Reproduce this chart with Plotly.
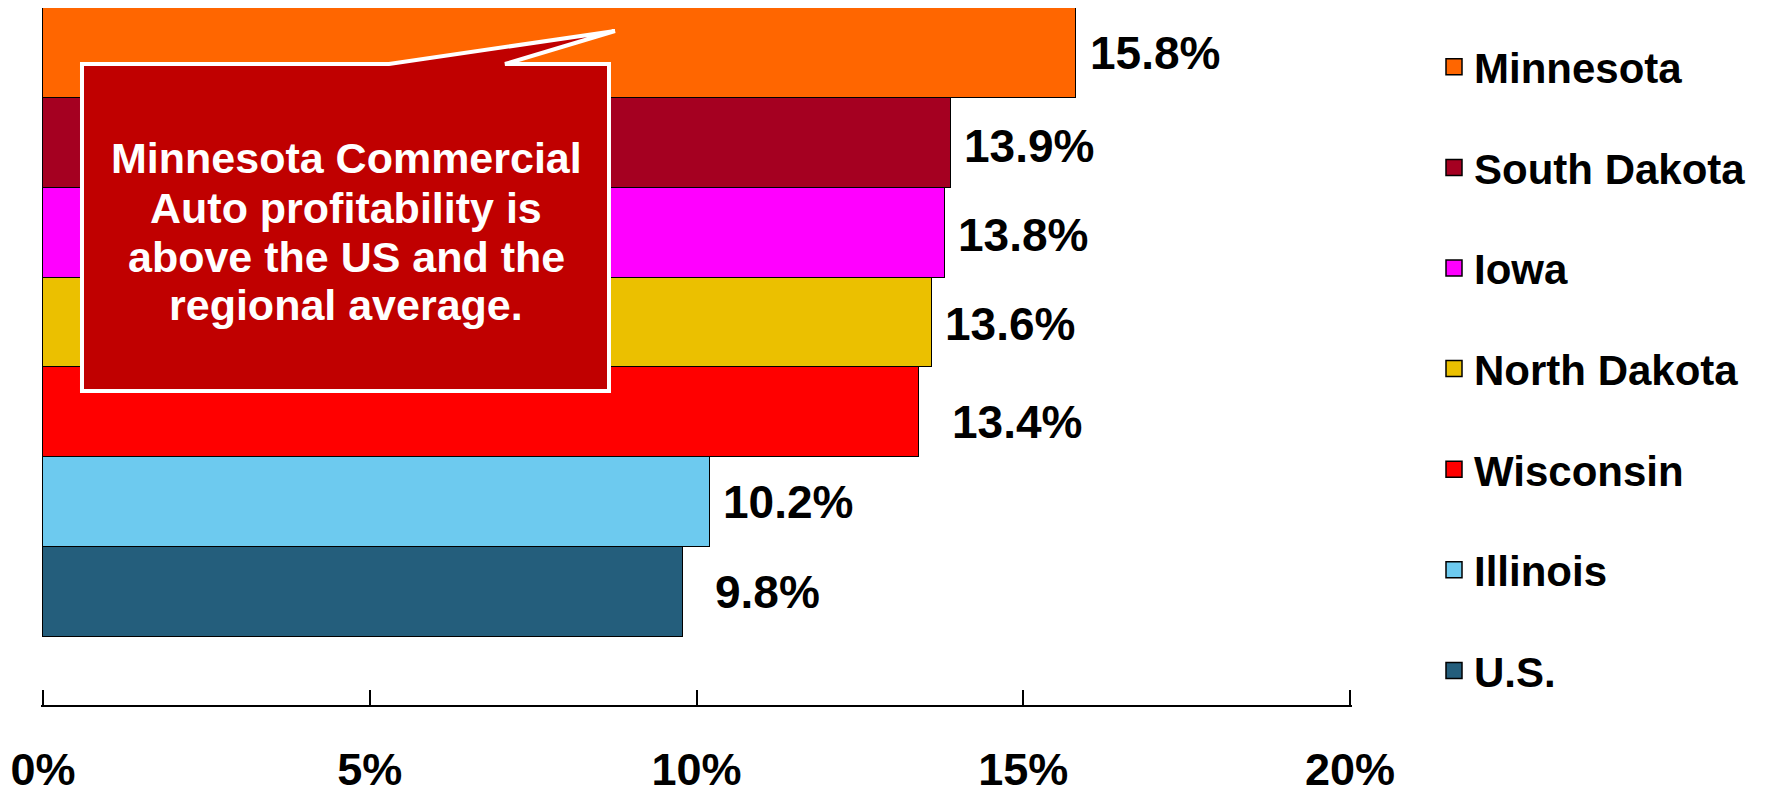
import plotly.graph_objects as go

# ---- data ----
states = ["Minnesota", "South Dakota", "Iowa", "North Dakota", "Wisconsin", "Illinois", "U.S."]
values = [15.8, 13.9, 13.8, 13.6, 13.4, 10.2, 9.8]
tick_vals = [0, 5, 10, 15, 20]
tick_text = ["0%", "5%", "10%", "15%", "20%"]
callout_lines = ["Minnesota Commercial", "Auto profitability is", "above the US and the", "regional average."]

# ---- styles ----
colors = ["#FF6600", "#A50021", "#FF00FF", "#EBC000", "#FF0000", "#6DCAEF", "#245E7C"]
label_dx = [12, 11, 11, 11, 31, 11, 30]
label_dy = [0, -3, -2, -2, -10, 0, 0]
FONT = "Liberation Sans, Arial, sans-serif"

W, H = 1768, 798
ML, MR, MT, MB = 41, 416, 8, 93
PW, PH = W - ML - MR, H - MT - MB


def pxp(x):
    return (x - ML) / PW


def pyp(y):
    return (H - MB - y) / PH


fig = go.Figure()
for s, v, c in zip(states, values, colors):
    fig.add_trace(go.Bar(
        x=[v], y=[s], orientation="h", name=s, legendgroup=s, showlegend=False,
        marker=dict(color=c, line=dict(color="black", width=1.5)),
        hoverinfo="x+name",
    ))
# legend entries (square swatches matching the bars)
for s, c in zip(states, colors):
    fig.add_trace(go.Scatter(
        x=[None], y=[None], mode="markers", name=s, legendgroup=s,
        marker=dict(symbol="square", size=16, color=c, line=dict(color="black", width=1.5)),
        hoverinfo="skip",
    ))

# data labels
for s, v, dx, dy in zip(states, values, label_dx, label_dy):
    fig.add_annotation(x=v, y=s, xref="x", yref="y", text=f"{v:.1f}%",
                       showarrow=False, xanchor="left", yanchor="middle",
                       xshift=dx, yshift=dy,
                       font=dict(family=FONT, size=46, color="black", weight="bold"))

# callout box with pointer
pts = [(82, 64), (389, 64), (615, 31), (505, 64), (609, 64), (609, 391), (82, 391)]
path = "M " + " L ".join(f"{pxp(x):.5f},{pyp(y):.5f}" for x, y in pts) + " Z"
fig.add_shape(type="path", path=path, xref="paper", yref="paper",
              fillcolor="#C00000", line=dict(color="white", width=4), layer="above")

line_y = [158, 208, 257, 305]
for t, yy in zip(callout_lines, line_y):
    fig.add_annotation(x=pxp(346), y=pyp(yy), xref="paper", yref="paper", text=t,
                       showarrow=False, xanchor="center", yanchor="middle",
                       font=dict(family=FONT, size=43, color="white", weight="bold"))

fig.update_layout(
    width=W, height=H,
    margin=dict(l=ML, r=MR, t=MT, b=MB, autoexpand=False),
    paper_bgcolor="white", plot_bgcolor="white",
    barmode="stack", bargap=0,
    showlegend=True,
    legend=dict(x=pxp(1434), y=pyp(33), xanchor="left", yanchor="top",
                font=dict(family=FONT, size=42, color="black", weight="bold"),
                tracegroupgap=43, bgcolor="rgba(0,0,0,0)", traceorder="grouped",
                itemsizing="trace"),
    xaxis=dict(range=[-0.03, 20.03], tickvals=tick_vals, ticktext=tick_text,
               showline=True, linecolor="black", linewidth=2,
               ticks="inside", ticklen=15, tickwidth=1.5, tickcolor="black",
               tickfont=dict(family=FONT, size=45, color="black", weight="bold"),
               ticklabelstandoff=24,
               showgrid=False, zeroline=False, fixedrange=True),
    yaxis=dict(type="category", categoryorder="array", categoryarray=states[::-1],
               range=[-1.257, 6.5], showticklabels=False, showgrid=False,
               zeroline=False, showline=False, ticks="", fixedrange=True),
)

fig.write_html("out.html")
